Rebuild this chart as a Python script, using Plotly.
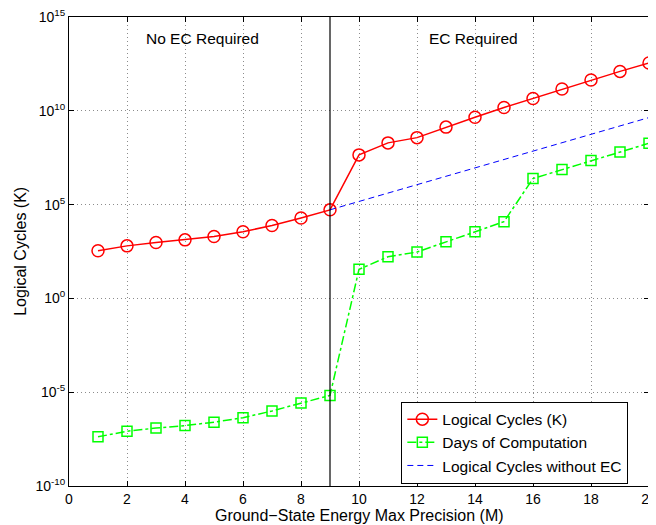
import plotly.graph_objects as go

precision = list(range(1, 21))
logical_cycles_exp = [2.54, 2.80, 2.98, 3.12, 3.30, 3.55, 3.89, 4.29, 4.72,
                      7.65, 8.29, 8.57, 9.13, 9.66, 10.18, 10.66, 11.16, 11.64, 12.10, 12.55]
days_exp = [-7.38, -7.08, -6.91, -6.78, -6.60, -6.36, -6.00, -5.57, -5.17,
            1.55, 2.22, 2.47, 3.02, 3.55, 4.09, 6.39, 6.87, 7.35, 7.81, 8.27]
no_ec_x = [9, 20]
no_ec_exp = [4.72, 9.64]

logical_cycles = [10 ** v for v in logical_cycles_exp]
days = [10 ** v for v in days_exp]
no_ec = [10 ** v for v in no_ec_exp]

y_tick_exp = [-10, -5, 0, 5, 10, 15]
y_tick_text = ["10<sup>%d</sup>" % e for e in y_tick_exp]
x_ticks = list(range(0, 21, 2))

FONT = "Liberation Sans, Arial, sans-serif"

fig = go.Figure()
fig.add_trace(go.Scatter(
    x=precision, y=logical_cycles, name="Logical Cycles (K)",
    mode="lines+markers",
    line=dict(color="#ff0000", width=1.5, dash="solid"),
    marker=dict(symbol="circle-open", size=12, color="#ff0000", line=dict(width=1.5)),
))
fig.add_trace(go.Scatter(
    x=precision, y=days, name="Days of Computation",
    mode="lines+markers",
    line=dict(color="#00ff00", width=1.5, dash="dashdot"),
    marker=dict(symbol="square-open", size=10, color="#00ff00", line=dict(width=1.5)),
))
fig.add_trace(go.Scatter(
    x=no_ec_x, y=no_ec, name="Logical Cycles without EC",
    mode="lines",
    line=dict(color="#0000ff", width=1, dash="6px,4px"),
))

fig.add_shape(type="line", xref="x", yref="paper", x0=9, x1=9, y0=0, y1=1,
              line=dict(color="black", width=1.2))

fig.add_annotation(x=4.6, y=13.85, xref="x", yref="y", text="No EC Required",
                   showarrow=False, font=dict(family=FONT, size=15.5, color="black"))
fig.add_annotation(x=13.95, y=13.85, xref="x", yref="y", text="EC Required",
                   showarrow=False, font=dict(family=FONT, size=15.5, color="black"))
# axis titles
fig.add_annotation(x=0.5, y=-0.062, xref="paper", yref="paper",
                   text="Ground\u2212State Energy Max Precision (M)",
                   showarrow=False, yanchor="middle",
                   font=dict(family=FONT, size=16, color="black"))
fig.add_annotation(x=-0.084, y=0.5, xref="paper", yref="paper",
                   text="Logical Cycles (K)", textangle=-90,
                   showarrow=False, xanchor="center",
                   font=dict(family=FONT, size=16, color="black"))

# page body has an 8px default margin; size the figure so the plot area lands
# where the reference has it
fig.update_layout(
    width=648, height=517,
    margin=dict(l=61, r=7, t=9, b=39),
    paper_bgcolor="white", plot_bgcolor="white",
    font=dict(family=FONT, size=14, color="black"),
    showlegend=True,
    legend=dict(x=0.573, y=0.180, xanchor="left", yanchor="top",
                bgcolor="white", bordercolor="black", borderwidth=1,
                font=dict(family=FONT, size=15.5), tracegroupgap=0,
                itemwidth=30),
)
fig.update_xaxes(
    range=[0, 20], tickvals=x_ticks, showgrid=True,
    gridcolor="#8c8c8c", griddash="1px,3px", gridwidth=1,
    showline=True, linecolor="black", linewidth=1, mirror="ticks",
    ticks="inside", ticklen=5, tickcolor="black", zeroline=False,
    automargin=False, tickfont=dict(size=14), ticklabeloverflow="allow",
)
fig.update_yaxes(
    type="log", range=[-10, 15], tickvals=[10 ** e for e in y_tick_exp],
    ticktext=y_tick_text, showgrid=True,
    gridcolor="#8c8c8c", griddash="1px,3px", gridwidth=1,
    showline=True, linecolor="black", linewidth=1, mirror="ticks",
    ticks="inside", ticklen=5, tickcolor="black", zeroline=False,
    automargin=False, tickfont=dict(size=14), ticklabeloverflow="allow",
)

fig.write_html("out.html")
